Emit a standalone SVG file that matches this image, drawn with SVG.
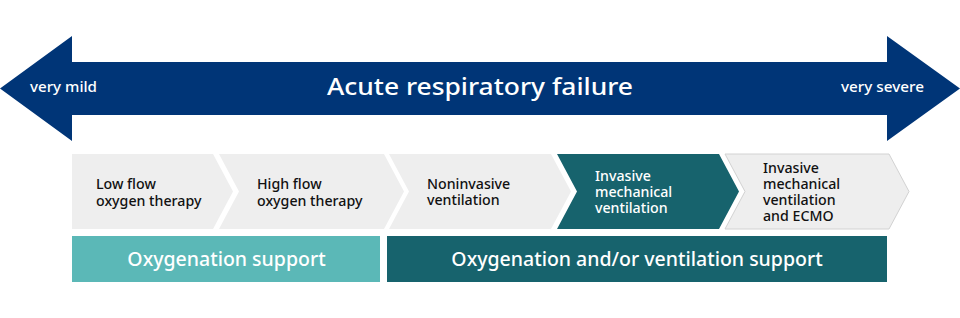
<svg xmlns="http://www.w3.org/2000/svg" width="960" height="318" viewBox="0 0 960 318">
<style>
text{font-family:"Noto Sans","Open Sans","Liberation Sans",sans-serif;font-weight:500}
.w{fill:#ffffff}
.k{fill:#111111;font-size:14.2px}
.kw{fill:#ffffff;font-size:14.2px}
.g{fill:#eeeeee}
.lt{fill:#5bb8b7}
.dt{fill:#17636d}
</style>
<rect width="960" height="318" fill="#ffffff"/>
<g id="scale">
<path d="M0,88.5 L72,36 L72,62 L887,62 L887,36 L960,88.5 L887,141 L887,115 L72,115 L72,141 Z" fill="#003577"/>
<text class="w" x="327" y="95" font-size="24" font-weight="600" textLength="306" lengthAdjust="spacingAndGlyphs">Acute respiratory failure</text>
<text class="w" x="30" y="92" font-size="14.5" textLength="67" lengthAdjust="spacingAndGlyphs">very mild</text>
<text class="w" x="841" y="92" font-size="14.5" textLength="83" lengthAdjust="spacingAndGlyphs">very severe</text>
</g>
<g id="low-flow">
<path class="g" d="M72,154 L213,154 L233,191.5 L213,229 L72,229 Z"/>
<text class="k" x="96" y="189">Low flow<tspan x="96" dy="16.5">oxygen therapy</tspan></text>
</g>
<g id="high-flow">
<path class="g" d="M219,154 L384,154 L404,191.5 L384,229 L219,229 L239,191.5 Z"/>
<text class="k" x="257" y="189">High flow<tspan x="257" dy="16.5">oxygen therapy</tspan></text>
</g>
<g id="noninvasive">
<path class="g" d="M389,154 L551,154 L571,191.5 L551,229 L389,229 L409,191.5 Z"/>
<text class="k" x="427" y="189">Noninvasive<tspan x="427" dy="16">ventilation</tspan></text>
</g>
<g id="invasive">
<path class="dt" d="M557,154 L719,154 L739,191.5 L719,229 L557,229 L577,191.5 Z"/>
<text class="kw" x="595" y="181">Invasive<tspan x="595" dy="16">mechanical</tspan><tspan x="595" dy="16">ventilation</tspan></text>
</g>
<g id="ecmo">
<path class="g" d="M725,154 L889,154 L909,191.5 L889,229 L725,229 L745,191.5 Z" stroke="#d2d2d2" stroke-width="1"/>
<text class="k" x="763" y="173">Invasive<tspan x="763" dy="16">mechanical</tspan><tspan x="763" dy="16">ventilation</tspan><tspan x="763" dy="16">and ECMO</tspan></text>
</g>
<g id="oxygenation-support">
<rect class="lt" x="72" y="236" width="308" height="46"/>
<text class="w" x="226.5" y="266" font-size="19.5" text-anchor="middle">Oxygenation support</text>
</g>
<g id="ventilation-support">
<rect class="dt" x="387" y="236" width="500" height="46"/>
<text class="w" x="637" y="266" font-size="19.5" text-anchor="middle">Oxygenation and/or ventilation support</text>
</g>
<g id="connectors"/>
</svg>
